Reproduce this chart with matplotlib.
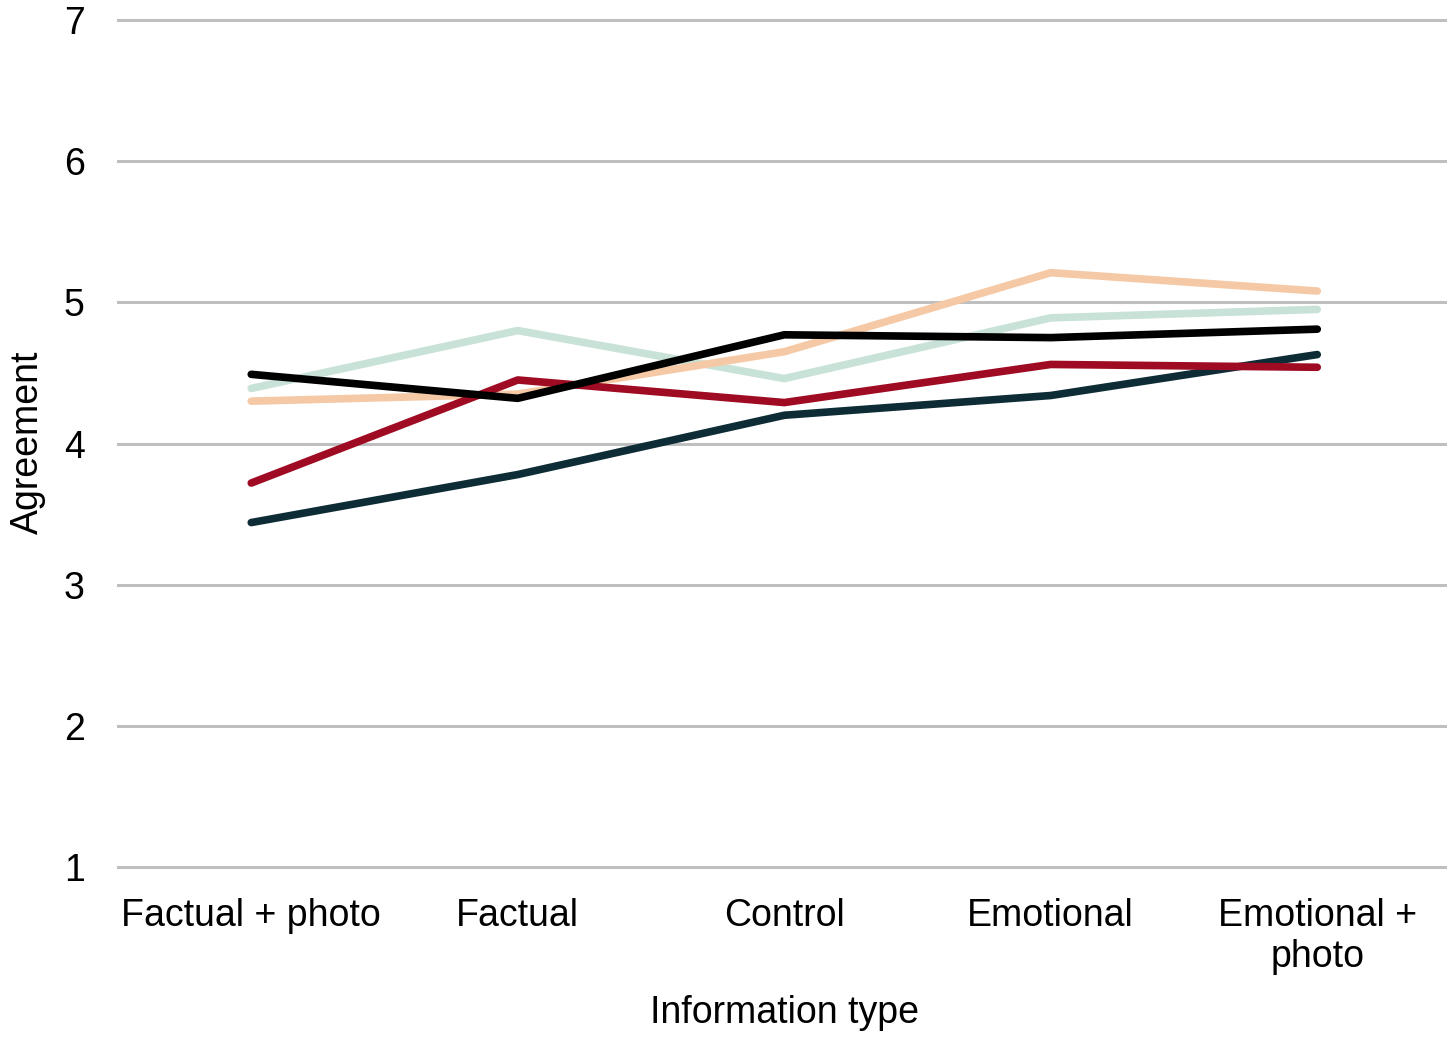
import matplotlib
matplotlib.use("Agg")
import matplotlib.pyplot as plt
import numpy as np

plt.rcParams["font.family"] = ["Liberation Sans", "DejaVu Sans"]

categories = ["Factual + photo", "Factual", "Control", "Emotional", "Emotional +\nphoto"]

mint = [4.39, 4.80, 4.46, 4.89, 4.95]
peach = [4.30, 4.35, 4.65, 5.21, 5.08]
dark = [3.44, 3.78, 4.20, 4.34, 4.63]
red = [3.72, 4.45, 4.29, 4.56, 4.54]
black = [4.49, 4.32, 4.77, 4.75, 4.81]

series = [
    (mint, "#C8E2D7"),
    (peach, "#F5C9A5"),
    (dark, "#0E2C36"),
    (red, "#9E0B22"),
    (black, "#000000"),
]

fig = plt.figure(figsize=(14.47, 10.38), dpi=100)
ax = fig.add_axes([118 / 1447, 1 - 867 / 1038, 1 - 118 / 1447, (867 - 20) / 1038])

x = np.arange(len(categories))
for vals, col in series:
    ax.plot(x, vals, color=col, lw=5.5, solid_capstyle="round",
            solid_joinstyle="round", zorder=3)

ax.set_xlim(-0.5, -0.5 + 1329 / 266.5)
ax.set_ylim(1, 7)
ax.set_yticks(range(1, 8))
ax.yaxis.grid(True, color="#BFBFBF", lw=2.2)
for gl in ax.get_ygridlines():
    gl.set_clip_on(False)
ax.set_axisbelow(True)
for s in ax.spines.values():
    s.set_visible(False)

ax.set_xticks(x)
ax.set_xticklabels(categories, fontsize=27, linespacing=1.2)
ax.tick_params(axis="x", length=0, pad=22)
ax.tick_params(axis="y", length=0, pad=24, labelsize=27)

fig.text(784 / 1447, 1 - 1013 / 1038, "Information type", fontsize=27,
         ha="center", va="center")
fig.text(28 / 1447, 1 - 442 / 1038, "Agreement", fontsize=27,
         ha="center", va="center", rotation=90)

fig.savefig("out.png", dpi=100)
